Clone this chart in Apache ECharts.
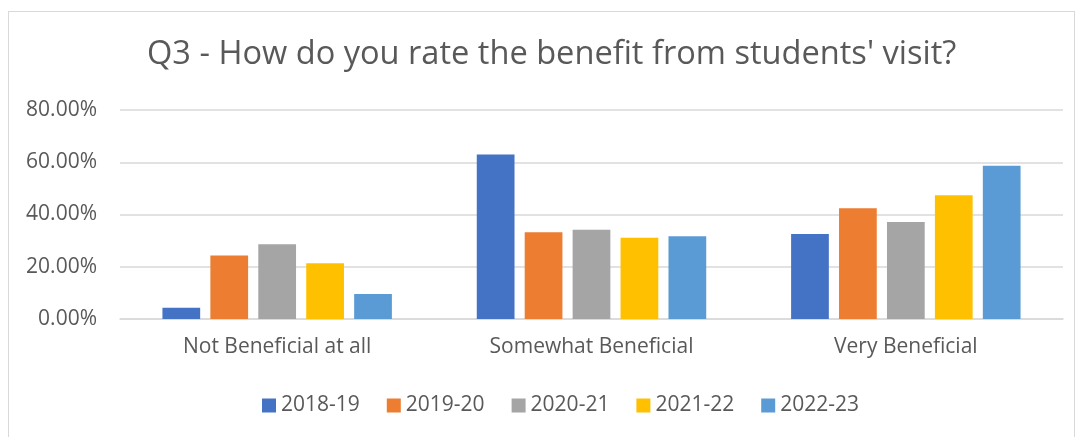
<!DOCTYPE html>
<html><head><meta charset="utf-8">
<script src="https://cdn.jsdelivr.net/npm/echarts@6/dist/echarts.min.js"></script>
<style>
html,body{margin:0;padding:0;background:#fff;}
#frame{position:absolute;left:8px;top:11px;width:1067px;height:440px;border:1px solid #d9d9d9;box-sizing:border-box;}
#c{position:absolute;left:0;top:0;width:1083px;height:437px;}
</style></head>
<body>
<div id="frame"></div>
<div id="c"></div>
<script>
const categories = ["Not Beneficial at all", "Somewhat Beneficial", "Very Beneficial"];
const seriesNames = ["2018-19", "2019-20", "2020-21", "2021-22", "2022-23"];
const s2018 = [4.35, 63.0, 32.5];
const s2019 = [24.3, 33.2, 42.4];
const s2020 = [28.6, 34.2, 37.1];
const s2021 = [21.3, 31.1, 47.4];
const s2022 = [9.6, 31.7, 58.7];
const colors = ["#4472C4", "#ED7D31", "#A5A5A5", "#FFC000", "#5B9BD5"];
const values = [s2018, s2019, s2020, s2021, s2022];

const chart = echarts.init(document.getElementById('c'), null, {renderer: 'canvas'});
const font = '"Open Sans", "Noto Sans", sans-serif';
chart.setOption({
  animation: false,
  title: {
    text: "Q3 - How do you rate the benefit from students' visit?",
    left: 142, top: 33,
    textStyle: {fontFamily: font, fontSize: 32.6, fontWeight: 'normal', color: '#595959'}
  },
  legend: {
    top: 390, left: 257,
    itemWidth: 14, itemHeight: 14, itemGap: 27,
    icon: 'rect',
    textStyle: {fontFamily: font, fontSize: 21, color: '#595959'},
    data: seriesNames
  },
  grid: {left: 120, right: 20, top: 110, bottom: 118},
  xAxis: {
    type: 'category', data: categories,
    axisLine: {lineStyle: {color: '#d9d9d9', width: 1.5}},
    axisTick: {show: false},
    axisLabel: {fontFamily: font, fontSize: 21, color: '#595959', margin: 18}
  },
  yAxis: {
    type: 'value', min: 0, max: 80, interval: 20,
    axisLine: {show: false}, axisTick: {show: false},
    splitLine: {lineStyle: {color: '#d9d9d9', width: 1.5}},
    axisLabel: {fontFamily: font, fontSize: 21, color: '#595959', margin: 23,
      formatter: v => v.toFixed(2) + '%'}
  },
  series: seriesNames.map((n, i) => ({
    name: n, type: 'bar', data: values[i],
    itemStyle: {color: colors[i]},
    barGap: '27%', barCategoryGap: '27%'
  }))
});
</script>
</body></html>
